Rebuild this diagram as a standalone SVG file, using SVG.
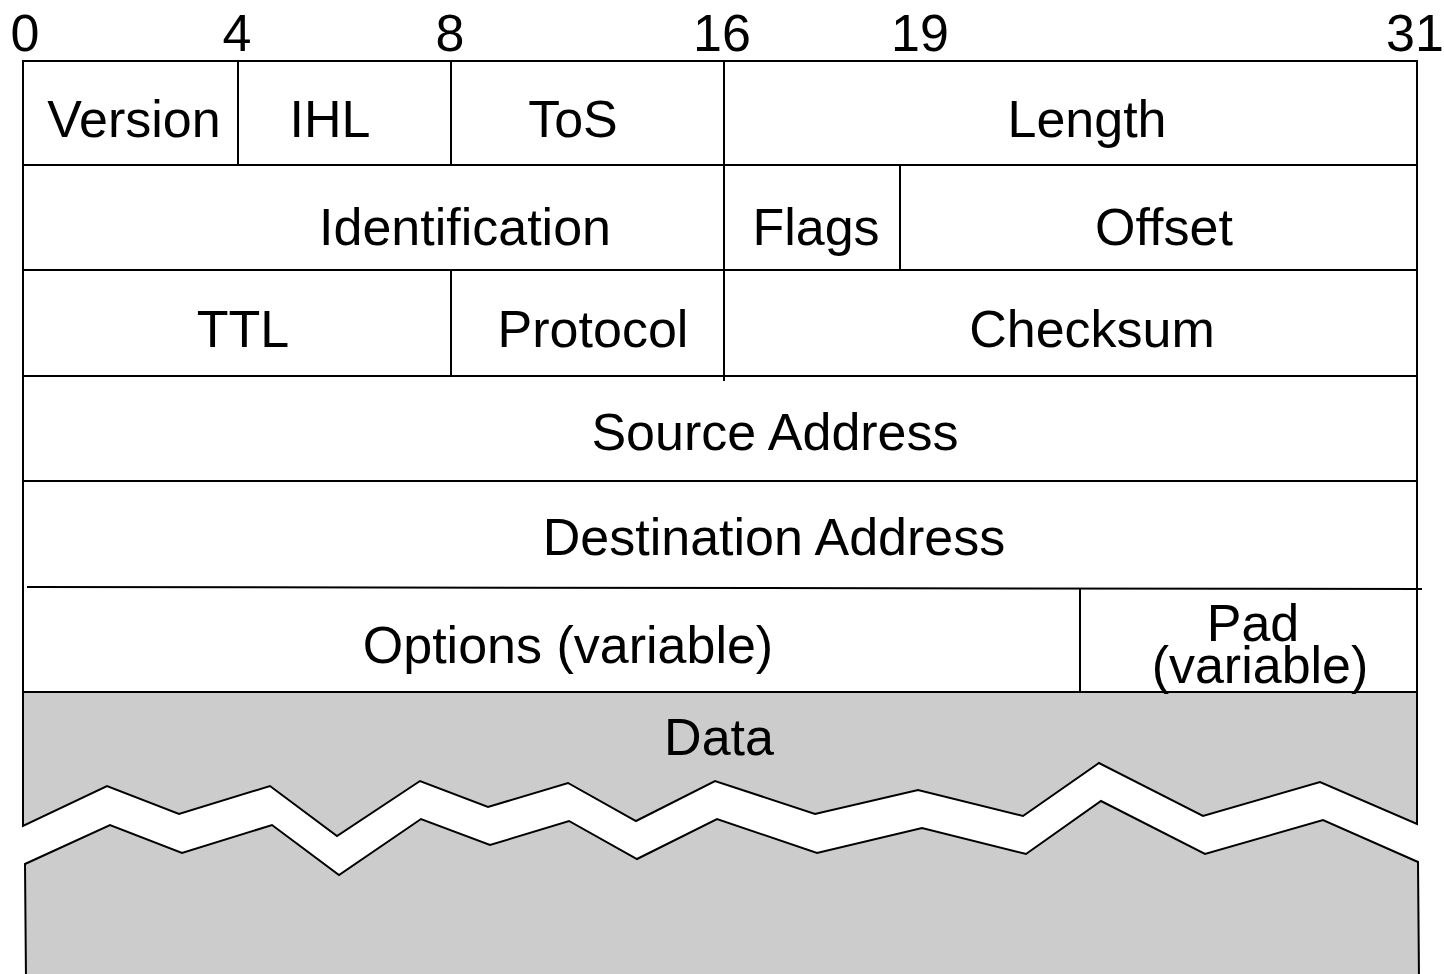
<svg xmlns="http://www.w3.org/2000/svg" width="1444" height="974" viewBox="0 0 1444 974">
  <style>
    .ln { stroke: #000; stroke-width: 2; fill: none; }
    .data { fill: #cccccc; stroke: none; }
    .edge { stroke: #000; stroke-width: 2; fill: none; stroke-linejoin: miter; }
    text { font-family: "Liberation Sans", Arial, Helvetica, sans-serif; font-size: 52px; fill: #000; text-anchor: middle; }
  </style>

  <!-- bit ruler -->
  <g id="ruler">
    <text x="25" y="51">0</text>
    <text x="237" y="51">4</text>
    <text x="450" y="51">8</text>
    <text x="722" y="51">16</text>
    <text x="920" y="51">19</text>
    <text x="1415" y="51">31</text>
  </g>

  <!-- data block, torn to show it continues -->
  <g id="data">
    <path class="data" d="M23,692 L1417,692 L1417,824 L1320,782 L1203,816 L1099,763 L1023,816 L918,790 L815,814 L715,781 L636,821 L568,783 L488,807 L420,781 L337,836 L270,786 L179,814 L107,786 L23,826 Z"/>
    <path class="edge" d="M23,692 L23,826 L107,786 L179,814 L270,786 L337,836 L420,781 L488,807 L568,783 L636,821 L715,781 L815,814 L918,790 L1023,816 L1099,763 L1203,816 L1320,782 L1417,824 L1417,692"/>
    <path class="data" d="M25,864 L110,825 L182,853 L272,825 L339,875 L421,819 L490,845 L569,821 L637,859 L717,819 L817,853 L922,828 L1026,854 L1101,801 L1205,854 L1323,820 L1418,862 L1419,980 L26,980 Z"/>
    <path class="edge" d="M26,980 L25,864 L110,825 L182,853 L272,825 L339,875 L421,819 L490,845 L569,821 L637,859 L717,819 L817,853 L922,828 L1026,854 L1101,801 L1205,854 L1323,820 L1418,862 L1419,980"/>
    <text x="719" y="755">Data</text>
  </g>

  <!-- header grid -->
  <g id="grid">
    <line class="ln" x1="23" y1="61" x2="1417" y2="61"/>
    <line class="ln" x1="23" y1="165" x2="1417" y2="165"/>
    <line class="ln" x1="23" y1="270" x2="1417" y2="270"/>
    <line class="ln" x1="23" y1="376" x2="1417" y2="376"/>
    <line class="ln" x1="23" y1="481" x2="1417" y2="481"/>
    <line class="ln" x1="27" y1="587" x2="1422" y2="589"/>
    <line class="ln" x1="23" y1="692" x2="1417" y2="692"/>
    <line class="ln" x1="23" y1="60" x2="23" y2="693"/>
    <line class="ln" x1="1417" y1="60" x2="1417" y2="693"/>
    <line class="ln" x1="238" y1="61" x2="238" y2="165"/>
    <line class="ln" x1="451" y1="61" x2="451" y2="165"/>
    <line class="ln" x1="451" y1="270" x2="451" y2="376"/>
    <line class="ln" x1="724" y1="61" x2="724" y2="381"/>
    <line class="ln" x1="900" y1="165" x2="900" y2="270"/>
    <line class="ln" x1="1080" y1="588" x2="1080" y2="692"/>
  </g>

  <g id="version"><text x="134" y="137">Version</text></g>
  <g id="ihl"><text x="330" y="137">IHL</text></g>
  <g id="tos"><text x="573" y="137">ToS</text></g>
  <g id="length"><text x="1087" y="137">Length</text></g>
  <g id="identification"><text x="465" y="245">Identification</text></g>
  <g id="flags"><text x="816" y="245">Flags</text></g>
  <g id="offset"><text x="1164" y="245">Offset</text></g>
  <g id="ttl"><text x="243" y="347">TTL</text></g>
  <g id="protocol"><text x="593" y="347">Protocol</text></g>
  <g id="checksum"><text x="1092" y="347">Checksum</text></g>
  <g id="source"><text x="775" y="450">Source Address</text></g>
  <g id="destination"><text x="774" y="555">Destination Address</text></g>
  <g id="options"><text x="568" y="663">Options (variable)</text></g>
  <g id="pad">
    <text x="1253" y="641">Pad</text>
    <text x="1260" y="683">(variable)</text>
  </g>
</svg>
